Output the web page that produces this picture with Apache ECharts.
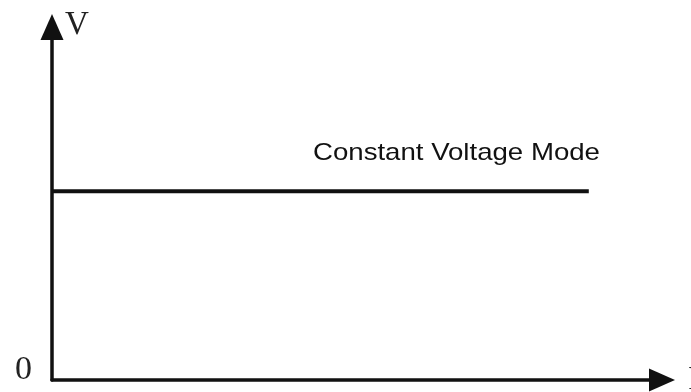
<!DOCTYPE html>
<html>
<head>
<meta charset="utf-8">
<script src="https://cdn.jsdelivr.net/npm/echarts@6/dist/echarts.min.js"></script>
<style>
  html, body { margin: 0; padding: 0; background: #fff; }
  #chart { width: 691px; height: 392px; }
</style>
</head>
<body>
<div id="chart"></div>
<script>
// schematic V-I curve: voltage stays flat
var currentValues = [0, 88];
var voltageValues = [53.5, 53.5];
var modeLabel = 'Constant Voltage Mode';
var originLabel = '0';

var chart = echarts.init(document.getElementById('chart'));

var lineData = currentValues.map(function (c, i) {
    return [c, voltageValues[i]];
});

var axisLine = {
    show: true,
    symbol: ['none', 'triangle'],
    symbolSize: [23, 26],
    lineStyle: { color: '#111', width: 3.5 }
};

var option = {
    animation: false,
    grid: { left: 52, right: 29, top: 27, bottom: 12, outerBoundsMode: 'none' },
    xAxis: {
        type: 'value',
        min: 0,
        max: 100,
        name: 'I',
        nameLocation: 'end',
        nameGap: 26,
        nameTextStyle: { fontFamily: 'Liberation Serif', fontSize: 34, color: '#222', verticalAlign: 'middle' },
        axisLine: axisLine,
        axisTick: { show: false },
        axisLabel: { show: false },
        splitLine: { show: false }
    },
    yAxis: {
        type: 'value',
        min: 0,
        max: 100,
        name: 'V',
        nameLocation: 'end',
        nameGap: 2,
        nameTextStyle: { fontFamily: 'Liberation Serif', fontSize: 33, color: '#222', align: 'left', verticalAlign: 'middle', padding: [0, 0, 0, 13] },
        axisLine: axisLine,
        axisTick: { show: false },
        axisLabel: { show: false },
        splitLine: { show: false }
    },
    graphic: [{
        type: 'text',
        left: 313,
        top: 141,
        scaleX: 1.15,
        style: {
            text: modeLabel,
            fontFamily: 'Liberation Sans',
            fontSize: 24,
            fill: '#111'
        }
    }, {
        type: 'text',
        left: 15,
        top: 353,
        style: {
            text: originLabel,
            fontFamily: 'Liberation Serif',
            fontSize: 34,
            fill: '#222'
        }
    }],
    series: [{
        type: 'line',
        data: lineData,
        showSymbol: false,
        lineStyle: { color: '#111', width: 4 }
    }]
};

chart.setOption(option);
</script>
</body>
</html>
